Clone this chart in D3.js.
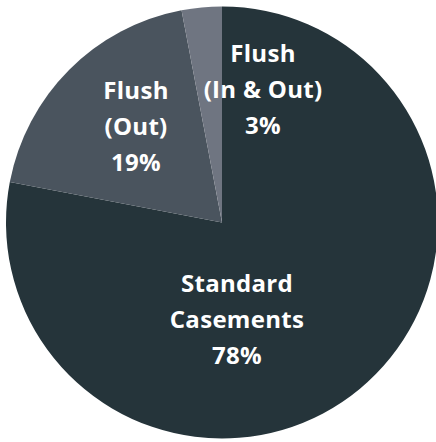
<!DOCTYPE html>
<meta charset="utf-8">
<head>
<style>
body { margin: 0; background: #fff; }
.label { fill: #fff; font-family: "Open Sans", sans-serif; font-weight: 700; font-size: 24px; letter-spacing: 0.3px; }
</style>
</head>
<body>
<script src="https://d3js.org/d3.v7.min.js"></script>
<script>

// slice data
var categories = ["Standard Casements", "Flush (Out)", "Flush (In & Out)"];
var values = [78, 19, 3];
var labelLines = [["Standard", "Casements", "78%"], ["Flush", "(Out)", "19%"], ["Flush", "(In & Out)", "3%"]];
var colors = ["#25343a", "#4a545e", "#6f7581"];

// label anchors (centre of first line), relative to pie centre
var labelOffsets = [[15, 61], [-86, -132], [41, -169]];

var width = 436, height = 442,
    cx = 222, cy = 222.5, radius = 216;

var svg = d3.select("body").append("svg")
    .attr("width", width)
    .attr("height", height)
  .append("g")
    .attr("transform", "translate(" + cx + "," + cy + ")");

var pie = d3.pie().sort(null).value(function(d) { return d; });
var arc = d3.arc().innerRadius(0).outerRadius(radius);

var arcs = pie(values);

svg.selectAll("path")
    .data(arcs)
  .enter().append("path")
    .attr("d", arc)
    .attr("fill", function(d, i) { return colors[i]; });

// labels
arcs.forEach(function(d, i) {
  var t = svg.append("text")
      .attr("class", "label")
      .attr("text-anchor", "middle")
      .attr("x", labelOffsets[i][0])
      .attr("y", labelOffsets[i][1]);
  labelLines[i].forEach(function(line, j) {
    t.append("tspan")
      .attr("x", labelOffsets[i][0])
      .attr("dy", j == 0 ? "0.35em" : 36)
      .text(line);
  });
});

</script>
</body>
